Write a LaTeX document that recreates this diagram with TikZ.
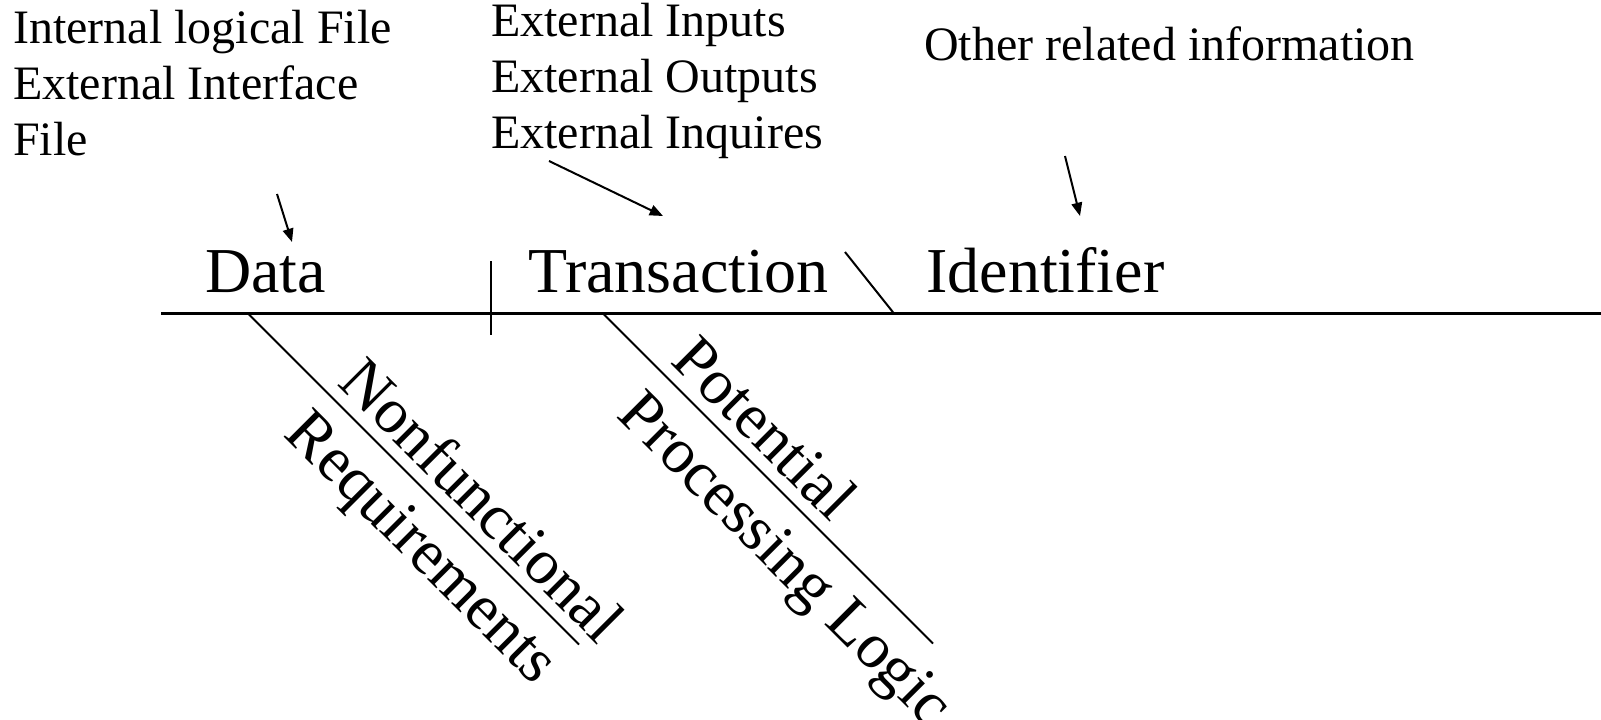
\documentclass[tikz,border=0pt]{standalone}
\usepackage{fontspec}
\setmainfont{Liberation Serif}
\usetikzlibrary{arrows.meta}
\tikzset{
  small/.style={inner sep=0pt, anchor=base west, font=\fontsize{36}{42}\selectfont},
  big/.style={inner sep=0pt, anchor=base west, font=\fontsize{48}{56}\selectfont},
  bone/.style={line width=1.5pt},
  pointer/.style={line width=1.5pt, -{Triangle[length=10pt,width=8pt]}},
}
\begin{document}
\begin{tikzpicture}[x=0.75pt,y=0.75pt]
\useasboundingbox (0,0) rectangle (1601,-720);
% top notes
\node[small] (ilf) at (13,-44) {Internal logical File};
\node[small] (eif) at (13,-100) {External Interface};
\node[small] (eiffile) at (13,-156) {File};
\node[small] (ein) at (491,-37) {External Inputs};
\node[small] (eout) at (491,-93) {External Outputs};
\node[small] (einq) at (491,-149) {External Inquires};
\node[small] (other) at (924,-61) {Other related information};
% labels on the spine
\node[big] (data) at (205,-292) {Data};
\node[big] (trans) at (528,-292) {Transaction};
\node[big] (ident) at (926,-292) {Identifier};
% spine and branches
\coordinate (S0) at (161,-313.5);
\coordinate (S1) at (1601,-313.5);
\draw[bone, line width=2pt] (S0) -- (S1);
\coordinate (T0) at (491,-261);
\coordinate (T1) at (491,-335);
\draw[bone] (T0) -- (T1);
\coordinate (K0) at (845,-252);
\coordinate (K1) at (894,-313.5);
\draw[bone] (K0) -- (K1);
\coordinate (D0) at (248,-313.5);
\coordinate (D1) at (579,-644.5);
\draw[bone] (D0) -- (D1);
\coordinate (P0) at (603,-313.5);
\coordinate (P1) at (933,-643.5);
\draw[bone] (P0) -- (P1);
% sloped texts
\node[big, rotate=-45] (nonf) at (336.4,-384) {Nonfunctional};
\node[big, rotate=-45] (req) at (282.7,-435) {Requirements};
\node[big, rotate=-45] (pot) at (669.5,-362) {Potential};
\node[big, rotate=-45] (proc) at (615.8,-416) {Processing Logic};
% pointers
\coordinate (A0) at (277,-194);
\coordinate (A1) at (292,-242);
\draw[pointer] (A0) -- (A1);
\coordinate (B0) at (549,-161);
\coordinate (B1) at (663,-216);
\draw[pointer] (B0) -- (B1);
\coordinate (C0) at (1065,-156);
\coordinate (C1) at (1080,-216);
\draw[pointer] (C0) -- (C1);
\end{tikzpicture}
\end{document}
